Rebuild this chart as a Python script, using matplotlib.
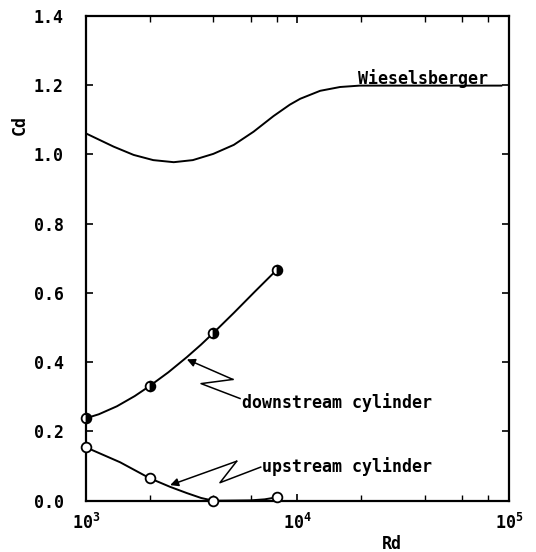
import numpy as np
import matplotlib
matplotlib.use('Agg')
import matplotlib.pyplot as plt
from matplotlib.ticker import FixedLocator, FuncFormatter, NullFormatter

plt.rcParams['font.family'] = 'DejaVu Sans Mono'
plt.rcParams['mathtext.fontset'] = 'custom'
plt.rcParams['mathtext.rm'] = 'DejaVu Sans Mono'

# measured points (open / half-filled circles)
down_rd = [1000, 2000, 4000, 8000]
down_cd = [0.238, 0.33, 0.484, 0.667]
up_rd = [1000, 2000, 4000, 8000]
up_cd = [0.154, 0.065, 0.0, 0.01]

# faired curves
down_curve_rd = [1000, 1150, 1400, 1700, 2000, 2450, 3000, 3500, 4000, 5000, 6300, 8000]
down_curve_cd = [0.238, 0.2495, 0.2725, 0.302, 0.331, 0.3705, 0.4145, 0.4505, 0.484,
                 0.542, 0.604, 0.667]
up_curve_rd = [1000, 1450, 2000, 2500, 3000, 3500, 4000, 5000, 6000, 7000, 8000]
up_curve_cd = [0.154, 0.111, 0.065, 0.040, 0.022, 0.008, 0.0, 0.0005, 0.001, 0.004, 0.01]

# Wieselsberger single cylinder curve
wie_rd = [1000, 1350, 1680, 2080, 2600, 3200, 4000, 5000, 6200, 7700, 9200,
          10300, 12800, 15900, 19700, 92000]
wie_cd = [1.06, 1.022, 0.998, 0.983, 0.977, 0.983, 1.001, 1.027, 1.065, 1.110, 1.143,
          1.160, 1.183, 1.194, 1.198, 1.198]

fig = plt.figure(figsize=(5.36, 5.52), dpi=100)
ax = fig.add_axes([0.1604, 0.0929, 0.7892, 0.8788])

ax.plot(wie_rd, wie_cd, color='black', lw=1.4, solid_joinstyle='round')
ax.plot(down_curve_rd, down_curve_cd, color='black', lw=1.4, solid_joinstyle='round')
ax.plot(up_curve_rd, up_curve_cd, color='black', lw=1.4, solid_joinstyle='round')

ax.plot(down_rd, down_cd, 'o', ms=7, mec='black', mew=1.3, fillstyle='right',
        mfc='black', mfcalt='white', clip_on=False, zorder=5)
ax.plot(up_rd, up_cd, 'o', ms=7, mec='black', mew=1.3, mfc='white',
        clip_on=False, zorder=5)

ax.set_xscale('log')
ax.set_xlim(1000, 100000)
ax.set_ylim(0, 1.4)

# text labels
ax.text(19300, 1.203, 'Wieselsberger', fontsize=12, fontweight='bold',
        ha='left', va='baseline')
ax.text(5450, 0.282, 'downstream cylinder', fontsize=12, fontweight='bold',
        ha='left', va='center')
ax.text(6800, 0.10, 'upstream cylinder', fontsize=12, fontweight='bold',
        ha='left', va='center')

# zig-zag leader arrows
ax.plot([5350, 3500, 4950], [0.295, 0.338, 0.350], color='black', lw=1.1)
ax.annotate('', xy=(3000, 0.408), xytext=(4950, 0.350),
            arrowprops=dict(arrowstyle='-|>', color='black', lw=1.1,
                            mutation_scale=12, shrinkA=0, shrinkB=0))
ax.plot([6700, 4300, 5160], [0.097, 0.052, 0.114], color='black', lw=1.1)
ax.annotate('', xy=(2500, 0.045), xytext=(5160, 0.114),
            arrowprops=dict(arrowstyle='-|>', color='black', lw=1.1,
                            mutation_scale=12, shrinkA=0, shrinkB=0))

# axes and ticks
for s in ax.spines.values():
    s.set_linewidth(1.6)

ax.set_yticks(np.arange(0, 1.41, 0.2))
ax.yaxis.set_major_formatter(FuncFormatter(lambda v, p: '%.1f' % v))
ax.xaxis.set_major_locator(FixedLocator([1e3, 1e4, 1e5]))
ax.xaxis.set_major_formatter(FuncFormatter(
    lambda v, p: r'$\mathregular{10^{%d}}$' % round(np.log10(v))))
minors = [m * 10 ** e for e in (3, 4) for m in (2, 4, 6, 8)]
ax.xaxis.set_minor_locator(FixedLocator(minors))
ax.xaxis.set_minor_formatter(NullFormatter())

ax.tick_params(which='major', direction='in', length=5, width=1.2,
               top=True, right=True, labelsize=12)
ax.tick_params(which='minor', direction='in', length=4, width=1.0,
               top=True, bottom=True)
ax.tick_params(axis='y', pad=16)
ax.tick_params(axis='x', pad=9)
for lab in ax.get_xticklabels() + ax.get_yticklabels():
    lab.set_fontweight('bold')

ax.set_ylabel('Cd', fontsize=12, fontweight='bold')
ax.yaxis.set_label_coords(-0.135, 0.775)
ax.set_xlabel('Rd', fontsize=12, fontweight='bold')
ax.xaxis.set_label_coords(0.723, -0.07)

fig.savefig('out.png', dpi=100)
